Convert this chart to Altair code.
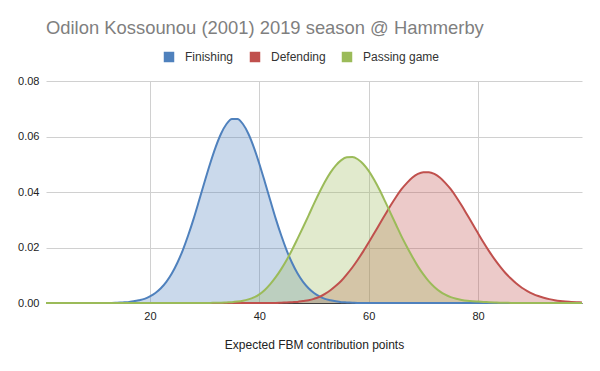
import altair as alt
import pandas as pd

x_vals = list(range(1, 100))
series_names = ["Finishing", "Defending", "Passing game"]
series_colors = ["#4F81BD", "#C0504D", "#9BBB59"]

finishing = [
    0, 0, 0, 0, 0, 0, 0, 0, 0, 0,
    0, 0, 0, 0.0001, 0.0002, 0.0003, 0.0006, 0.0010, 0.0015, 0.0024,
    0.0036, 0.0053, 0.0076, 0.0106, 0.0144, 0.0190, 0.0244, 0.0304, 0.0370, 0.0437,
    0.0502, 0.0561, 0.0610, 0.0645, 0.0663, 0.0663, 0.0645, 0.0610, 0.0561, 0.0502,
    0.0437, 0.0370, 0.0304, 0.0244, 0.0190, 0.0144, 0.0106, 0.0076, 0.0053, 0.0036,
    0.0024, 0.0015, 0.0010, 0.0006, 0.0003, 0.0002, 0.0001, 0, 0, 0,
    0, 0, 0, 0, 0, 0, 0, 0, 0, 0,
    0, 0, 0, 0, 0, 0, 0, 0, 0, 0,
    0, 0, 0, 0, 0, 0, 0, 0, 0, 0,
    0, 0, 0, 0, 0, 0, 0, 0, 0,
]

defending = [
    0, 0, 0, 0, 0, 0, 0, 0, 0, 0,
    0, 0, 0, 0, 0, 0, 0, 0, 0, 0,
    0, 0, 0, 0, 0, 0, 0, 0, 0, 0,
    0, 0, 0, 0, 0, 0, 0, 0, 0, 0,
    0, 0, 0, 0.0001, 0.0002, 0.0003, 0.0004, 0.0007, 0.0010, 0.0015,
    0.0022, 0.0033, 0.0046, 0.0062, 0.0080, 0.0103, 0.0128, 0.0156, 0.0186, 0.0218,
    0.0251, 0.0285, 0.0318, 0.0351, 0.0382, 0.0410, 0.0433, 0.0452, 0.0465, 0.0471,
    0.0471, 0.0465, 0.0452, 0.0433, 0.0410, 0.0382, 0.0351, 0.0318, 0.0285, 0.0251,
    0.0218, 0.0187, 0.0158, 0.0132, 0.0108, 0.0088, 0.0070, 0.0055, 0.0043, 0.0033,
    0.0025, 0.0019, 0.0014, 0.0010, 0.0007, 0.0005, 0.0004, 0.0003, 0.0002,
]

passing = [
    0, 0, 0, 0, 0, 0, 0, 0, 0, 0,
    0, 0, 0, 0, 0, 0, 0, 0, 0, 0,
    0, 0, 0, 0, 0, 0, 0, 0, 0, 0,
    0, 0.0001, 0.0001, 0.0002, 0.0003, 0.0005, 0.0008, 0.0013, 0.0020, 0.0031,
    0.0047, 0.0068, 0.0093, 0.0122, 0.0155, 0.0192, 0.0232, 0.0273, 0.0315, 0.0358,
    0.0399, 0.0437, 0.0470, 0.0496, 0.0515, 0.0525, 0.0526, 0.0518, 0.0501, 0.0476,
    0.0444, 0.0407, 0.0366, 0.0324, 0.0282, 0.0240, 0.0202, 0.0166, 0.0132, 0.0103,
    0.0078, 0.0058, 0.0042, 0.0030, 0.0021, 0.0015, 0.0011, 0.0008, 0.0006, 0.0005,
    0.0004, 0.0003, 0.0002, 0.0001, 0.0001, 0, 0, 0, 0, 0,
    0, 0, 0, 0, 0, 0, 0, 0, 0,
]

x_ticks = [20, 40, 60, 80]
y_ticks = [0, 0.02, 0.04, 0.06, 0.08]

rows = []
for name, vals in zip(series_names, [finishing, defending, passing]):
    for xv, yv in zip(x_vals, vals):
        rows.append({"x": xv, "y": yv, "series": name})
df = pd.DataFrame(rows)

FONT = "Liberation Sans"

x_enc = alt.X(
    "x:Q",
    scale=alt.Scale(domain=[1, 99], nice=False, zero=False),
    axis=alt.Axis(
        values=x_ticks,
        title="Expected FBM contribution points",
        grid=True,
        gridColor="#D0D0D0",
        ticks=False,
        domainColor="#404040",
        domainWidth=1,
        labelPadding=7,
        labelFontSize=11,
        labelColor="#222222",
        titleFontSize=12,
        titleFontWeight="normal",
        titleColor="#222222",
        titlePadding=18,
    ),
)
y_axis = alt.Axis(
    values=y_ticks,
    format=".2f",
    title=None,
    grid=True,
    gridColor="#D0D0D0",
    ticks=False,
    domain=False,
    labelPadding=7,
    labelFontSize=11,
    labelColor="#222222",
)
y_scale = alt.Scale(domain=[0, 0.08], nice=False)
color_scale = alt.Scale(domain=series_names, range=series_colors)

areas = alt.Chart(df).mark_area(fillOpacity=0.3, interpolate="monotone").encode(
    x=x_enc,
    y=alt.Y("y:Q", scale=y_scale, axis=y_axis, stack=None),
    color=alt.Color(
        "series:N",
        scale=color_scale,
        sort=series_names,
        legend=alt.Legend(
            title=None,
            orient="none",
            direction="horizontal",
            legendX=117,
            legendY=-30,
            padding=0,
            symbolType="square",
            symbolSize=110,
            symbolOpacity=1,
            symbolStrokeWidth=0,
            labelFontSize=12,
            labelColor="#333333",
            labelOffset=10,
            columnPadding=15,
        ),
    ),
)

lines = alt.Chart(df).mark_line(strokeWidth=2, interpolate="monotone").encode(
    x=x_enc,
    y=alt.Y("y:Q", scale=y_scale, axis=y_axis),
    color=alt.Color("series:N", scale=color_scale, sort=series_names, legend=None),
)

chart = alt.layer(areas, lines).properties(
    width=536,
    height=222,
    autosize=alt.AutoSizeParams(type="none"),
    padding={"left": 38, "top": 73, "right": 10, "bottom": 60},
    title=alt.TitleParams(
        "Odilon Kossounou (2001) 2019 season @ Hammerby",
        anchor="start",
        frame="group",
        fontSize=18.4,
        fontWeight="normal",
        color="#7F7F7F",
        font=FONT,
        offset=14,
    ),
).configure(font=FONT).configure_view(stroke=None)

chart.save("out.html", embed_options={"renderer": "svg", "actions": False})
